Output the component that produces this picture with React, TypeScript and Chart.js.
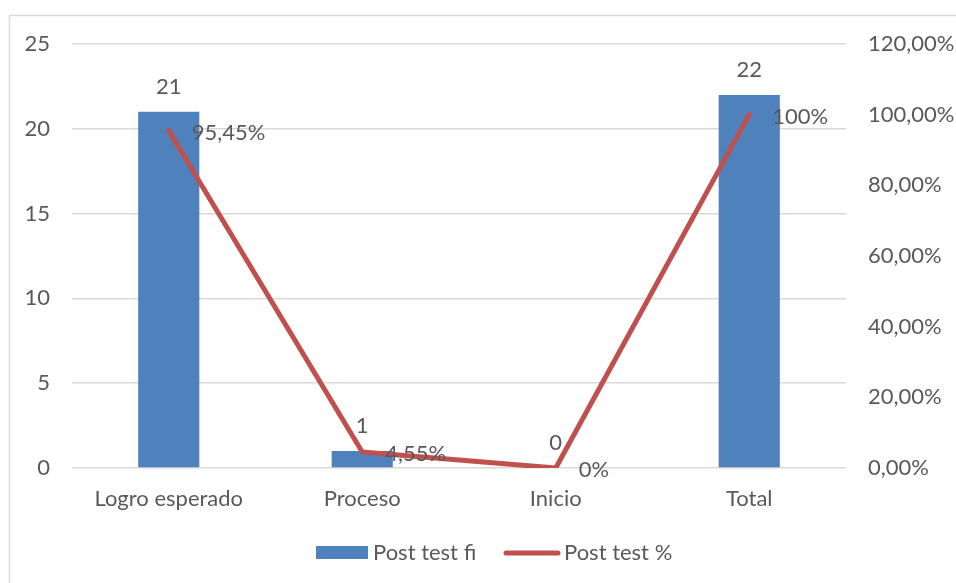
import React, { useEffect, useRef } from "react";
import { Chart, registerables } from "chart.js";

Chart.register(...registerables);

const categories = ["Logro esperado", "Proceso", "Inicio", "Total"];
const fiValues = [21, 1, 0, 22];
const pctValues = [0.9545, 0.0455, 0, 1.0];
const pctLabels = ["95,45%", "4,55%", "0%", "100%"];
const seriesNames = ["Post test fi", "Post test %"];

const BLUE = "#4F81BD";
const RED = "#C0504D";
const TEXT = "#595959";
const GRID = "#D9D9D9";
const FONT = "Lato, 'Open Sans', sans-serif";
const FSIZE = 22;

export default function App() {
  const ref = useRef<HTMLCanvasElement | null>(null);

  useEffect(() => {
    document.body.style.margin = "0";
    const canvas = ref.current;
    if (!canvas) return;

    const decor = {
      id: "decor",
      beforeDraw(chart: any) {
        const ctx = chart.ctx;
        ctx.save();
        ctx.fillStyle = "#ffffff";
        ctx.fillRect(0, 0, chart.width, chart.height);
        ctx.strokeStyle = GRID;
        ctx.lineWidth = 1.5;
        ctx.strokeRect(9.5, 15.5, 1200, 1200);
        ctx.restore();
      },
      afterDatasetsDraw(chart: any) {
        const ctx = chart.ctx;
        ctx.save();
        ctx.font = `${FSIZE}px ${FONT}`;
        ctx.fillStyle = TEXT;
        ctx.textBaseline = "middle";
        const barMeta = chart.getDatasetMeta(0);
        ctx.textAlign = "center";
        barMeta.data.forEach((el: any, i: number) => {
          ctx.fillText(String(fiValues[i]), el.x, el.y - 25);
        });
        const lineMeta = chart.getDatasetMeta(1);
        ctx.textAlign = "left";
        lineMeta.data.forEach((el: any, i: number) => {
          ctx.fillText(pctLabels[i], el.x + 23, el.y + 2);
        });

        // legend
        const ly = 553;
        ctx.fillStyle = BLUE;
        ctx.fillRect(316, ly - 7, 52, 13);
        ctx.fillStyle = TEXT;
        ctx.fillText(seriesNames[0], 373, ly);
        ctx.strokeStyle = RED;
        ctx.lineWidth = 5;
        ctx.lineCap = "round";
        ctx.beginPath();
        ctx.moveTo(506, ly);
        ctx.lineTo(558, ly);
        ctx.stroke();
        ctx.fillText(seriesNames[1], 564, ly);
        ctx.restore();
      },
    };

    const chart = new Chart(canvas, {
      type: "bar",
      data: {
        labels: categories,
        datasets: [
          {
            type: "bar",
            label: seriesNames[0],
            data: fiValues,
            backgroundColor: BLUE,
            yAxisID: "y",
            barPercentage: 0.316,
            categoryPercentage: 1,
            order: 2,
          },
          {
            type: "line",
            label: seriesNames[1],
            data: pctValues,
            borderColor: RED,
            backgroundColor: RED,
            borderWidth: 5,
            pointRadius: 0,
            tension: 0,
            yAxisID: "y1",
            order: 1,
            borderCapStyle: "round",
            borderJoinStyle: "round",
          } as any,
        ],
      },
      options: {
        responsive: false,
        animation: false,
        devicePixelRatio: 1,
        layout: { padding: { top: 44, left: 0, right: 0, bottom: 0 } },
        plugins: {
          legend: { display: false },
          tooltip: { enabled: false },
        },
        scales: {
          x: {
            grid: { display: false, drawTicks: false },
            border: { display: false },
            ticks: {
              color: TEXT,
              font: { family: FONT, size: FSIZE },
              padding: 18,
              maxRotation: 0,
            },
            afterFit(scale: any) {
              scale.height = 115;
            },
          },
          y: {
            position: "left",
            min: 0,
            max: 25,
            ticks: {
              stepSize: 5,
              color: TEXT,
              font: { family: FONT, size: FSIZE },
              padding: 22,
            },
            grid: { color: GRID, lineWidth: 1.5, drawTicks: false },
            border: { display: false },
            afterFit(scale: any) {
              scale.width = 72;
            },
          },
          y1: {
            position: "right",
            min: 0,
            max: 1.2,
            ticks: {
              stepSize: 0.2,
              color: TEXT,
              font: { family: FONT, size: FSIZE },
              padding: 22,
              callback: (v: any) =>
                (Number(v) * 100).toFixed(2).replace(".", ",") + "%",
            },
            grid: { display: false, drawTicks: false },
            border: { display: false },
            afterFit(scale: any) {
              scale.width = 110;
            },
          },
        },
      },
      plugins: [decor],
    });

    return () => chart.destroy();
  }, []);

  return (
    <div style={{ position: "fixed", left: 0, top: 0, width: 956, height: 583 }}>
      <canvas ref={ref} width={956} height={583} />
    </div>
  );
}
